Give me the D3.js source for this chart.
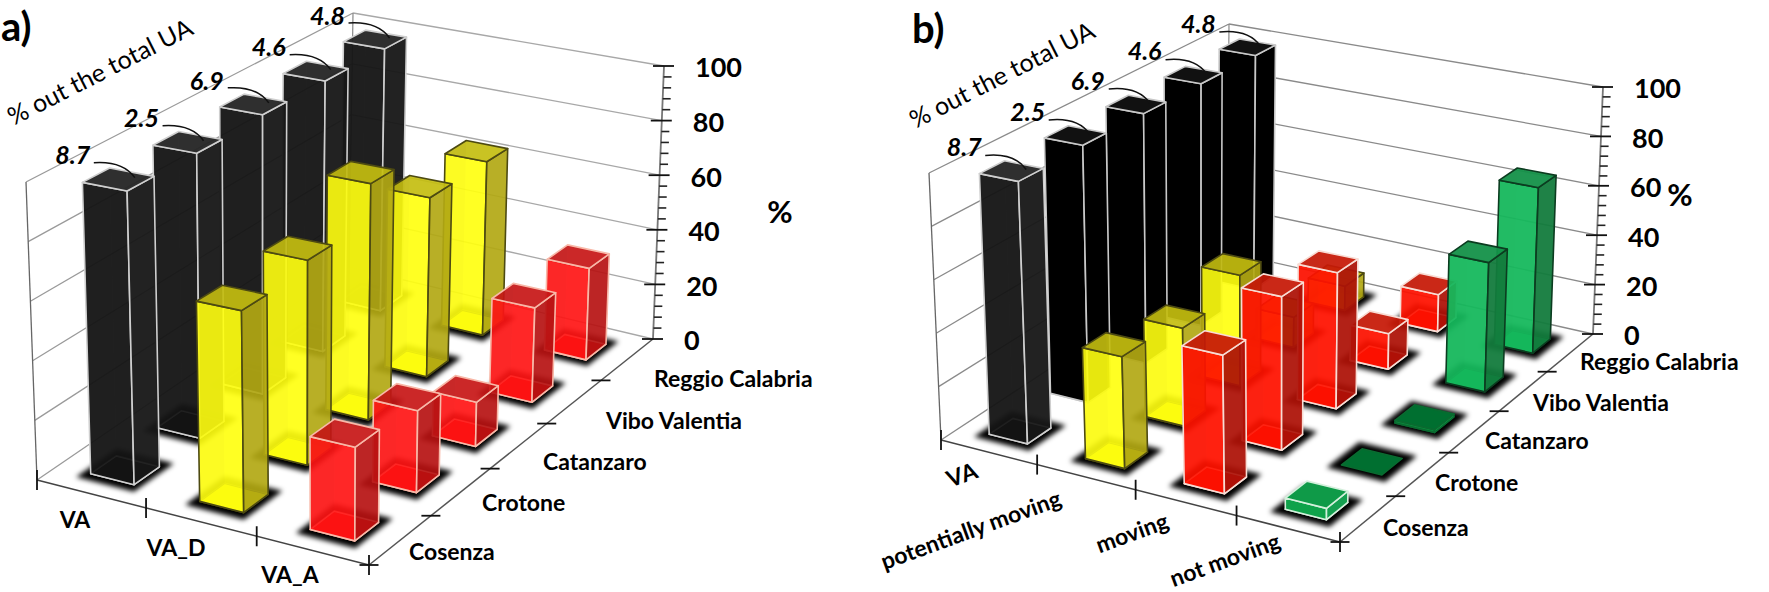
<!DOCTYPE html>
<html><head><meta charset="utf-8">
<script src="https://cdn.jsdelivr.net/npm/d3@7/dist/d3.min.js"></script>
<style>html,body{margin:0;padding:0;background:#fff}svg{display:block}text{font-family:Lato,"Open Sans",sans-serif;fill:#000}</style>
</head><body><svg id="c" width="1769" height="592"></svg>
<script>
const cities = ["Cosenza","Crotone","Catanzaro","Vibo Valentia","Reggio Calabria"];
const shareUA = ["8.7","2.5","6.9","4.6","4.8"];
const valueTicks = [0,20,40,60,80,100];
const groupsA = ["VA","VA_D","VA_A"];
const vaA  = [98,98,99,99,99];
const vaDA = [66,69,82,64,64];
const vaAA = [30,27,15,33,33];
const groupsB = ["VA","potentially moving","moving","not moving"];
const vaB   = [98,99,99,99,99];
const potB  = [41,37,43,12,10];
const movB  = [50,57,52,14,15];
const notB  = [4,0,1,50,66];

const palette = {
  black:{front:"#141414",side:"#181818",top:"#262626",base:"#000",edge:"#cfcfcf",alpha:.93},
  blackSolid:{front:"#000",side:"#000",top:"#111",base:"#000",edge:"#c8c8c8",alpha:1},
  yellow:{front:"#ffff10",side:"#aea413",top:"#c2bb10",base:"#e4e400",edge:"#4d4a12",alpha:.88},
  red:{front:"#ff1414",side:"#b31212",top:"#c41616",base:"#e00000",edge:"#f8b8a8",alpha:.88},
  redB:{front:"#ff1200",side:"#aa1208",top:"#c41a08",base:"#e00000",edge:"#f8dcd4",alpha:.9},
  green:{front:"#16b85c",side:"#12793c",top:"#149048",base:"#0ca64c",edge:"#0c3c20",alpha:.92},
  greenLow:{front:"#0fa24a",side:"#14a050",top:"#0f9a48",base:"#0ca64c",edge:"#d4f0dc",alpha:1},
  greenFlat:{front:"#0a8a3c",side:"#0cae4e",top:"#006f30",base:"#006f30",edge:"#0a6a30",alpha:1}
};

const panels = [
 { title:"a)", titleAt:[1,41],
   groups:groupsA, rows:[vaA,vaDA,vaAA],
   styles:[()=>"black",()=>"yellow",()=>"red"],
   floor:[[37,480],[369,565],[653,339],[349,267]],
   roof:[[26,182],[371,248],[664,66],[353,13]],
   groupLabels:[[75,520],[176,548],[290,575]], groupAngle:0,
   cityLabels:[[409,552],[482,503],[543,462],[606,421],[654,379]],
   pct:[780,212], uaTitle:[100,72],
   labelOff:[-62,-22], lineOff:[-41,-15], grid:"#a8a8a8", sideGrid:"#9a9a9a"
 },
 { title:"b)", titleAt:[912,43],
   groups:groupsB, rows:[vaB,potB,movB,notB],
   styles:[(i)=>i===0?"black":"blackSolid",()=>"yellow",()=>"redB",(i)=>i===0?"greenLow":(i<3?"greenFlat":"green")],
   floor:[[941,440],[1340,542],[1593,334],[1227,252]],
   roof:[[929,173],[1342,256],[1603,87],[1229,24]],
   groupLabels:[[962,475],[971,530],[1132,533],[1225,560]], groupAngle:-20,
   cityLabels:[[1383,528],[1435,483],[1485,441],[1533,403],[1580,362]],
   pct:[1680,195], uaTitle:[1002,75],
   labelOff:[-62,-22], lineOff:[-41,-14], grid:"#8a8a8a", sideGrid:"#8a8a8a"
 }
];

function homography(q){
  const [[x0,y0],[x1,y1],[x2,y2],[x3,y3]]=q;
  const dx1=x1-x2,dx2=x3-x2,sx=x0-x1+x2-x3,dy1=y1-y2,dy2=y3-y2,sy=y0-y1+y2-y3;
  const det=dx1*dy2-dx2*dy1;
  const g=(sx*dy2-dx2*sy)/det,h=(dx1*sy-sx*dy1)/det;
  const a=x1-x0+g*x1,b=x3-x0+h*x3,d=y1-y0+g*y1,e=y3-y0+h*y3;
  return (u,v)=>{const t=g*u+h*v+1;return [(a*u+b*v+x0)/t,(d*u+e*v+y0)/t];};
}

const svg=d3.select("#c");
const defs=svg.append("defs");
defs.append("filter").attr("id","blur").attr("x","-60%").attr("y","-60%").attr("width","220%").attr("height","220%")
  .append("feGaussianBlur").attr("stdDeviation",2.6);

const pts=a=>a.map(p=>p[0].toFixed(1)+","+p[1].toFixed(1)).join(" ");

panels.forEach(pn=>{
  const g=svg.append("g");
  const H0=homography(pn.floor),H1=homography(pn.roof);
  const xS=d3.scaleBand(pn.groups,[0,1]).paddingInner(.6).paddingOuter(.3);
  const yS=d3.scaleBand(cities,[0,1]).paddingInner(.62).paddingOuter(.31);
  const wS=d3.scaleLinear([0,100],[0,1]);
  const P=(u,v,val)=>{const a=H0(u,v),b=H1(u,v),w=wS(val);return [a[0]+(b[0]-a[0])*w,a[1]+(b[1]-a[1])*w];};
  const seg=(a,b,col,sw)=>g.append("line").attr("x1",a[0]).attr("y1",a[1]).attr("x2",b[0]).attr("y2",b[1]).attr("stroke",col).attr("stroke-width",sw);

  // walls
  valueTicks.forEach(t=>{
    seg(P(0,0,t),P(0,1,t),pn.sideGrid,1.3);
    seg(P(0,1,t),P(1,1,t),pn.grid,1.3);
  });
  seg(P(0,0,0),P(0,0,100),"#666",1.3);
  seg(P(0,1,0),P(0,1,100),"#888",1.2);
  seg(P(0,0,0),P(1,0,0),"#444",1.5);
  seg(P(1,0,0),P(1,1,0),"#555",1.5);
  seg(P(1,1,0),P(1,1,100),"#777",1.8);

  // value ticks
  d3.range(0,101,4).forEach(t=>{
    const p=P(1,1,t);
    if(t%20===0) seg([p[0]-11,p[1]],[p[0]+10,p[1]],"#111",1.8);
    else seg(p,[p[0]+8,p[1]],"#222",1.6);
  });
  valueTicks.forEach(t=>{
    const p=P(1,1,t);
    g.append("text").attr("x",p[0]+31).attr("y",p[1]+2).attr("dy",".35em").attr("font-size",27).attr("font-weight",700).text(t);
  });
  // category ticks
  d3.range(0,pn.groups.length+1).forEach(i=>{
    const p=P(i*xS.step(),0,0);
    seg([p[0],p[1]-10],[p[0],p[1]+10],"#111",1.8);
  });
  d3.range(0,cities.length).forEach(i=>{
    const p=P(1,i*yS.step(),0);
    seg([p[0]-9.5,p[1]],[p[0]+9.5,p[1]],"#111",1.8);
  });

  // bars, far row first
  const cells=[];
  d3.range(cities.length-1,-1,-1).forEach(ci=>pn.groups.forEach((gr,gi)=>cells.push({gr,gi,ci,city:cities[ci],val:pn.rows[gi][ci]})));
  const shadows=g.append("g");
  cells.forEach(c=>{
    const s=palette[pn.styles[c.gi](c.ci)];
    const u0=xS(c.gr),u1=u0+xS.bandwidth(),v0=yS(c.city),v1=v0+yS.bandwidth();
    const bar=g.append("g");
    if(s!==palette.blackSolid){
      const pad=.022;
      bar.append("polygon").attr("points",pts([P(u0-pad,v0-pad,0),P(u1+pad,v0-pad,0),P(u1+pad,v1+pad,0),P(u0-pad,v1+pad,0)]))
        .attr("fill","#000").attr("filter","url(#blur)");
    }
    const face=(a,fill,op,stroke)=>bar.append("polygon").attr("points",pts(a)).attr("fill",fill).attr("fill-opacity",op)
        .attr("stroke",stroke?s.edge:"none").attr("stroke-width",1.6).attr("stroke-linejoin","round");
    const b=[P(u0,v0,0),P(u1,v0,0),P(u1,v1,0),P(u0,v1,0)];
    const t=[P(u0,v0,c.val),P(u1,v0,c.val),P(u1,v1,c.val),P(u0,v1,c.val)];
    face(b,s.base,1,c.val>0);
    if(c.val>0){
      face([b[3],b[2],t[2],t[3]],s.front,.35,false);
      face([b[0],b[3],t[3],t[0]],s.side,.35,false);
      face([b[0],b[1],t[1],t[0]],s.front,s.alpha,true);
      face([b[1],b[2],t[2],t[1]],s.side,s.alpha,true);
    }
    face(t,s.top,s.alpha,true);
  });

  // share-of-UA callouts over the first group's bars
  cities.forEach((city,i)=>{
    const cu=xS(pn.groups[0])+xS.bandwidth()*.72, cv=yS(city)+yS.bandwidth()*.75;
    const e=P(cu,cv,pn.rows[0][i]);
    const st=[e[0]+pn.lineOff[0],e[1]+pn.lineOff[1]];
    const path=d3.path();
    path.moveTo(st[0],st[1]);
    path.quadraticCurveTo(e[0]-12,e[1]-17,e[0],e[1]);
    g.append("path").attr("d",path.toString()).attr("fill","none").attr("stroke","#111").attr("stroke-width",1.5);
    g.append("text").attr("x",e[0]+pn.labelOff[0]).attr("y",e[1]+pn.labelOff[1]).attr("dy",".35em")
      .attr("text-anchor","middle").attr("font-size",25).attr("font-weight",700).attr("font-style","italic").text(shareUA[i]);
  });

  // labels
  pn.groups.forEach((gr,i)=>{
    const [x,y]=pn.groupLabels[i];
    g.append("text").attr("transform",`translate(${x},${y}) rotate(${pn.groupAngle})`).attr("dy",".35em")
      .attr("text-anchor","middle").attr("font-size",23).attr("font-weight",700).text(gr);
  });
  cities.forEach((ct,i)=>{
    const [x,y]=pn.cityLabels[i];
    g.append("text").attr("x",x).attr("y",y).attr("dy",".35em").attr("font-size",23).attr("font-weight",700).text(ct);
  });
  g.append("text").attr("x",pn.pct[0]).attr("y",pn.pct[1]).attr("dy",".35em").attr("text-anchor","middle").attr("font-size",31).attr("font-weight",700).text("%");
  g.append("text").attr("transform",`translate(${pn.uaTitle[0]},${pn.uaTitle[1]}) rotate(-27)`).attr("dy",".35em").attr("text-anchor","middle").attr("font-size",25).text("% out the total UA");
  g.append("text").attr("x",pn.titleAt[0]).attr("y",pn.titleAt[1]).attr("font-size",40).attr("font-weight",700).text(pn.title);
});
</script></body></html>
